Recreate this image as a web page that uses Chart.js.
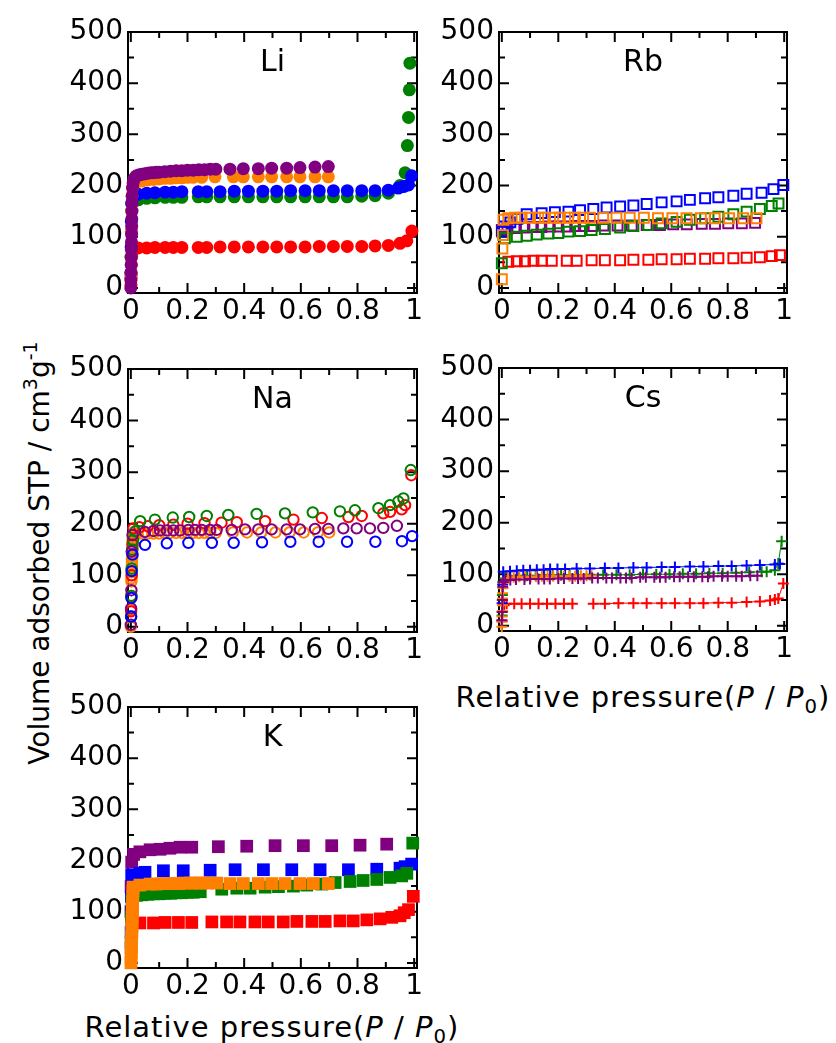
<!DOCTYPE html>
<html>
<head>
<meta charset="utf-8">
<script src="https://cdn.jsdelivr.net/npm/chart.js@4.4.0/dist/chart.umd.min.js"></script>
<style>
body { margin:0; background:#fff; width:836px; height:1043px; position:relative; overflow:hidden; font-family:"DejaVu Sans", sans-serif; color:#000 }
canvas { position:absolute }
.title { position:absolute; white-space:nowrap; line-height:1; transform:translate(-50%,-50%) }
.ytitle { font-size:28px; transform:translate(-50%,-50%) rotate(-90deg) }
.xtitle { font-size:29px; letter-spacing:1px }
.sup { font-size:0.68em; position:relative; top:-0.62em }
.sub { font-size:0.68em; position:relative; top:0.3em }
</style>
</head>
<body>
<div class="title ytitle" style="left:40px; top:553px">Volume adsorbed STP / cm<span class="sup">3</span>g<span class="sup">-1</span></div>
<div class="title xtitle" style="left:643px; top:697px">Relative pressure(<i>P</i> / <i>P</i><span class="sub">0</span>)</div>
<div class="title xtitle" style="left:272px; top:1027px">Relative pressure(<i>P</i> / <i>P</i><span class="sub">0</span>)</div>
<script>
// axes
const xTicks = [0, 0.2, 0.4, 0.6, 0.8, 1]
const xTickLabels = ['0', '0.2', '0.4', '0.6', '0.8', '1']
const xMinor = [0.1, 0.3, 0.5, 0.7, 0.9]
const yTicks = [0, 100, 200, 300, 400, 500]
const yTickLabels = ['0', '100', '200', '300', '400', '500']
const yMinor = [50, 150, 250, 350, 450]

// Li
const liRedX = [0.0005, 0.001, 0.002, 0.003, 0.005, 0.026, 0.056, 0.085, 0.121, 0.15, 0.18, 0.238, 0.268, 0.315, 0.365, 0.415, 0.466, 0.515, 0.564, 0.615, 0.665, 0.715, 0.764, 0.815, 0.862, 0.909, 0.95, 0.974, 0.992]
const liRedY = [5, 25, 45, 62, 74, 78, 78, 79, 79, 79, 79, 79, 79, 80, 80, 80, 80, 80, 80, 80, 81, 81, 81, 81, 82, 83, 87, 92, 111]
const liGreenX = [0.0005, 0.001, 0.002, 0.003, 0.005, 0.026, 0.056, 0.085, 0.121, 0.15, 0.18, 0.238, 0.268, 0.315, 0.365, 0.415, 0.466, 0.515, 0.564, 0.615, 0.665, 0.715, 0.764, 0.815, 0.862, 0.909, 0.95, 0.968, 0.976, 0.98, 0.983, 0.985]
const liGreenY = [20, 60, 110, 150, 168, 172, 175, 176, 177, 177, 177, 178, 178, 178, 178, 178, 178, 178, 178, 178, 178, 178, 178, 179, 180, 185, 200, 225, 278, 333, 387, 439]
const liBlueX = [0.0005, 0.001, 0.002, 0.003, 0.005, 0.026, 0.056, 0.085, 0.121, 0.15, 0.18, 0.238, 0.268, 0.315, 0.365, 0.415, 0.466, 0.515, 0.564, 0.615, 0.665, 0.715, 0.764, 0.815, 0.862, 0.909, 0.944, 0.962, 0.98, 0.991]
const liBlueY = [30, 80, 130, 165, 178, 183, 185, 186, 187, 187, 188, 188, 188, 188, 189, 189, 189, 189, 190, 190, 190, 190, 190, 190, 190, 191, 195, 198, 201, 219]
const liOrangeX = [0.0005, 0.001, 0.002, 0.003, 0.004, 0.006, 0.01, 0.02, 0.04, 0.06, 0.08, 0.1, 0.12, 0.14, 0.16, 0.18, 0.2, 0.22, 0.25, 0.297, 0.362, 0.397, 0.45, 0.497, 0.55, 0.597, 0.65, 0.697]
const liOrangeY = [20, 60, 110, 150, 180, 196, 203, 206, 209, 211, 212, 213, 214, 214, 215, 215, 216, 216, 216, 217, 217, 217, 217, 217, 217, 217, 217, 217]
const liPurpleX = [0, 0.0003, 0.0006, 0.001, 0.0014, 0.0018, 0.0022, 0.0026, 0.003, 0.0035, 0.004, 0.0045, 0.005, 0.006, 0.008, 0.011, 0.015, 0.02, 0.03, 0.04, 0.05, 0.06, 0.07, 0.08, 0.09, 0.1, 0.12, 0.14, 0.16, 0.18, 0.2, 0.22, 0.24, 0.26, 0.28, 0.3, 0.35, 0.397, 0.45, 0.497, 0.55, 0.597, 0.65, 0.697]
const liPurpleY = [0, 15, 30, 45, 60, 75, 90, 105, 120, 135, 150, 165, 180, 195, 205, 212, 216, 219, 221, 222, 223, 224, 225, 225, 226, 226, 227, 228, 229, 229, 230, 230, 231, 231, 232, 232, 232, 233, 233, 234, 234, 235, 236, 237]

// Rb
const rbRedX = [0.023, 0.053, 0.082, 0.112, 0.141, 0.177, 0.23, 0.265, 0.318, 0.365, 0.419, 0.466, 0.519, 0.566, 0.619, 0.666, 0.72, 0.767, 0.82, 0.867, 0.914, 0.956, 0.985]
const rbRedY = [51, 52, 52, 53, 53, 53, 53, 53, 54, 54, 54, 55, 55, 56, 56, 57, 57, 58, 58, 59, 60, 62, 64]
const rbGreenX = [0, 0.011, 0.053, 0.088, 0.124, 0.165, 0.2, 0.236, 0.277, 0.318, 0.365, 0.419, 0.466, 0.519, 0.566, 0.619, 0.666, 0.72, 0.767, 0.82, 0.867, 0.914, 0.956, 0.98]
const rbGreenY = [48, 97, 100, 102, 104, 106, 107, 110, 111, 113, 115, 118, 121, 123, 126, 129, 133, 136, 139, 144, 149, 154, 160, 165]
const rbBlueX = [0.001, 0.008, 0.03, 0.055, 0.088, 0.141, 0.188, 0.236, 0.277, 0.324, 0.371, 0.419, 0.466, 0.513, 0.566, 0.619, 0.666, 0.72, 0.767, 0.82, 0.867, 0.92, 0.962, 0.997]
const rbBlueY = [110, 120, 128, 135, 144, 146, 148, 149, 152, 154, 157, 159, 161, 164, 167, 169, 172, 175, 177, 180, 184, 186, 193, 201]
const rbOrangeX = [0, 0.002, 0.004, 0.006, 0.023, 0.047, 0.07, 0.1, 0.129, 0.153, 0.182, 0.206, 0.235, 0.259, 0.288, 0.312, 0.359, 0.406, 0.453, 0.503, 0.553, 0.604, 0.654, 0.705, 0.754, 0.805, 0.855, 0.902]
const rbOrangeY = [17, 77, 103, 133, 136, 137, 137, 137, 137, 137, 137, 137, 137, 137, 137, 137, 137, 137, 137, 137, 136, 136, 136, 136, 136, 136, 136, 136]
const rbPurpleX = [0, 0.02, 0.05, 0.08, 0.11, 0.14, 0.17, 0.2, 0.23, 0.26, 0.29, 0.32, 0.36, 0.41, 0.46, 0.513, 0.56, 0.607, 0.655, 0.708, 0.755, 0.802, 0.85, 0.897]
const rbPurpleY = [113, 116, 117, 118, 119, 119, 120, 120, 120, 121, 121, 121, 122, 122, 122, 123, 123, 124, 124, 125, 125, 126, 126, 127]

// Na
const naRedX = [0.001, 0.003, 0.006, 0.009, 0.03, 0.06, 0.1, 0.15, 0.2, 0.26, 0.32, 0.374, 0.474, 0.574, 0.674, 0.768, 0.815, 0.891, 0.915, 0.956, 0.968, 0.99]
const naRedY = [30, 100, 160, 191, 193, 195, 197, 198, 200, 201, 202, 203, 205, 208, 211, 213, 215, 220, 223, 228, 236, 294]
const naGreenX = [0.001, 0.002, 0.003, 0.005, 0.008, 0.015, 0.033, 0.085, 0.148, 0.206, 0.268, 0.344, 0.444, 0.544, 0.642, 0.738, 0.791, 0.874, 0.915, 0.944, 0.962, 0.988]
const naGreenY = [20, 60, 113, 150, 168, 185, 205, 208, 212, 213, 215, 217, 219, 220, 222, 224, 226, 230, 236, 243, 249, 304]
const naBlueX = [0.001, 0.002, 0.003, 0.006, 0.05, 0.127, 0.203, 0.286, 0.363, 0.463, 0.563, 0.663, 0.763, 0.863, 0.957, 0.993]
const naBlueY = [20, 56, 108, 140, 159, 162, 163, 163, 163, 164, 165, 165, 165, 165, 166, 176]
const naOrangeX = [0, 0.001, 0.001, 0.002, 0.002, 0.003, 0.003, 0.003, 0.004, 0.004, 0.004, 0.005, 0.005, 0.005, 0.006, 0.006, 0.006, 0.007, 0.007, 0.008, 0.01, 0.014, 0.02, 0.04, 0.06, 0.08, 0.1, 0.12, 0.14, 0.16, 0.18, 0.2, 0.22, 0.24, 0.26, 0.28, 0.3, 0.36, 0.41, 0.46, 0.51, 0.56, 0.61, 0.66, 0.7]
const naOrangeY = [0, 33, 60, 88, 94, 100, 106, 112, 118, 124, 130, 136, 142, 148, 154, 160, 166, 170, 174, 177, 179, 180, 180, 181, 181, 181, 181, 182, 182, 182, 182, 182, 182, 182, 182, 182, 182, 183, 183, 183, 183, 183, 183, 183, 183]
const naPurpleX = [0, 0.001, 0.002, 0.003, 0.006, 0.05, 0.08, 0.103, 0.127, 0.15, 0.174, 0.203, 0.227, 0.25, 0.28, 0.303, 0.356, 0.403, 0.45, 0.497, 0.55, 0.597, 0.65, 0.697, 0.75, 0.797, 0.844, 0.891, 0.939]
const naPurpleY = [4, 36, 71, 146, 178, 184, 186, 187, 187, 187, 187, 188, 188, 188, 188, 188, 188, 189, 189, 189, 189, 189, 190, 190, 191, 191, 191, 192, 196]

// Cs (null breaks the red line where the picture has a gap)
const csRedX = [0.001, 0.003, 0.008, 0.017, 0.044, 0.07, 0.1, 0.13, 0.16, 0.19, 0.22, 0.25, 0.29, 0.324, 0.365, 0.413, 0.466, 0.513, 0.566, 0.613, 0.666, 0.714, 0.767, 0.814, 0.867, 0.914, 0.95, 0.967, 0.979, 0.997]
const csRedY = [10, 28, 40, 43, 43, 43, 43, 43, 43, 43, 43, 43, null, 43, 43, 44, 44, 44, 44, 44, 44, 44, 45, 45, 46, 47, 49, 51, 53, 82]
const csGreenX = [0.001, 0.002, 0.004, 0.01, 0.03, 0.06, 0.09, 0.12, 0.15, 0.18, 0.21, 0.24, 0.27, 0.312, 0.359, 0.406, 0.453, 0.5, 0.547, 0.594, 0.641, 0.688, 0.735, 0.782, 0.829, 0.876, 0.92, 0.938, 0.967, 0.979, 0.991]
const csGreenY = [20, 60, 85, 92, 96, 97, 97, 97, 98, 98, 98, 98, 98, 99, 99, 99, 99, 100, 100, 100, 101, 101, 102, 102, 103, 104, 105, 105, 108, 121, 164]
const csBlueX = [0.001, 0.002, 0.003, 0.005, 0.029, 0.053, 0.076, 0.1, 0.124, 0.148, 0.171, 0.197, 0.224, 0.265, 0.312, 0.365, 0.413, 0.466, 0.513, 0.566, 0.613, 0.666, 0.714, 0.767, 0.814, 0.867, 0.914, 0.967, 0.985]
const csBlueY = [44, 50, 80, 105, 106, 107, 108, 108, 109, 109, 110, 110, 110, 111, 111, 112, 112, 113, 113, 114, 114, 115, 115, 116, 116, 117, 118, 119, 120]
const csOrangeX = [0, 0.0005, 0.001, 0.0015, 0.002, 0.0025, 0.003, 0.004, 0.006, 0.022, 0.042, 0.062, 0.082, 0.102, 0.122, 0.142, 0.162, 0.182, 0.2, 0.22, 0.24, 0.26, 0.28, 0.3, 0.318]
const csOrangeY = [-2, 8, 18, 29, 40, 53, 63, 73, 84, 93, 94, 95, 95, 95, 95, 96, 96, 96, 96, 96, 96, 96, 97, 97, 97]
const csPurpleX = [0, 0.001, 0.002, 0.003, 0.005, 0.012, 0.03, 0.05, 0.08, 0.1, 0.13, 0.15, 0.17, 0.2, 0.22, 0.25, 0.27, 0.29, 0.32, 0.34, 0.37, 0.39, 0.42, 0.44, 0.46, 0.49, 0.51, 0.54, 0.56, 0.58, 0.61, 0.63, 0.66, 0.68, 0.71, 0.73, 0.75, 0.78, 0.8, 0.83, 0.85, 0.88, 0.905]
const csPurpleY = [11, 27, 50, 76, 85, 89, 89, 90, 90, 91, 91, 91, 91, 92, 92, 92, 92, 92, 93, 93, 93, 93, 93, 93, 93, 94, 94, 94, 94, 94, 95, 95, 95, 95, 95, 95, 96, 96, 96, 96, 96, 97, 97]

// K
const kRedX = [0.001, 0.003, 0.032, 0.08, 0.121, 0.168, 0.215, 0.286, 0.338, 0.385, 0.438, 0.485, 0.538, 0.586, 0.639, 0.686, 0.738, 0.785, 0.833, 0.88, 0.921, 0.95, 0.965, 0.98, 0.997]
const kRedY = [30, 65, 78, 78, 79, 79, 79, 80, 80, 80, 80, 80, 80, 81, 81, 81, 82, 82, 84, 86, 89, 92, 98, 104, 130]
const kGreenX = [0.001, 0.002, 0.004, 0.02, 0.04, 0.06, 0.08, 0.1, 0.12, 0.14, 0.16, 0.18, 0.2, 0.22, 0.245, 0.321, 0.374, 0.421, 0.474, 0.521, 0.574, 0.621, 0.674, 0.721, 0.774, 0.82, 0.868, 0.915, 0.956, 0.974, 0.995]
const kGreenY = [40, 90, 120, 132, 133, 134, 135, 135, 136, 136, 137, 137, 138, 138, 139, 144, 146, 146, 148, 149, 150, 152, 154, 157, 159, 161, 163, 167, 170, 175, 234]
const kBlueX = [0.001, 0.002, 0.003, 0.032, 0.05, 0.115, 0.185, 0.28, 0.368, 0.468, 0.568, 0.668, 0.768, 0.868, 0.95, 0.968, 0.991]
const kBlueY = [60, 130, 172, 175, 177, 180, 180, 181, 182, 182, 182, 182, 182, 183, 185, 188, 193]
const kOrangeX = [0.0005, 0.001, 0.0015, 0.002, 0.0025, 0.003, 0.0035, 0.004, 0.0045, 0.005, 0.0055, 0.006, 0.0065, 0.007, 0.0075, 0.008, 0.032, 0.068, 0.09, 0.11, 0.13, 0.15, 0.17, 0.19, 0.21, 0.23, 0.25, 0.27, 0.303, 0.35, 0.397, 0.45, 0.497, 0.544, 0.597, 0.644, 0.697]
const kOrangeY = [0, 10, 20, 30, 40, 50, 60, 70, 80, 90, 100, 110, 120, 130, 140, 148, 152, 154, 154, 155, 155, 155, 155, 156, 156, 156, 156, 156, 156, 155, 155, 155, 155, 155, 155, 155, 155]
const kPurpleX = [0.0005, 0.001, 0.003, 0.01, 0.032, 0.068, 0.103, 0.138, 0.174, 0.215, 0.309, 0.409, 0.509, 0.609, 0.709, 0.809, 0.903]
const kPurpleY = [100, 149, 197, 212, 217, 221, 222, 224, 226, 226, 227, 228, 229, 229, 229, 230, 232]

const RED = '#ff0000', GREEN = '#008000', BLUE = '#0000ff', ORANGE = '#ff8000', PURPLE = '#800080'

const FONT = '"DejaVu Sans"'
const AXIS_W = 75, AXIS_H = 45, PAD_T = 22, PAD_R = 22

const markers = {
    filledCircle: {style: 'circle', r: 6.5, bw: 0, fill: true},
    openSquare: {style: 'rect', r: 7, bw: 2, fill: false},
    openCircle: {style: 'circle', r: 5.2, bw: 2, fill: false},
    cross: {style: 'cross', r: 5.5, bw: 2, fill: false, line: true},
    filledSquare: {style: 'rect', r: 9, bw: 0, fill: true}
}

// frame + inward ticks on all four sides
const frameTicks = {
    id: 'frameTicks',
    beforeDatasetsDraw(chart) {
        const {ctx, chartArea: a} = chart
        const xs = chart.scales.x, ys = chart.scales.y
        ctx.save()
        ctx.strokeStyle = '#000'
        ctx.lineWidth = 2
        ctx.beginPath()
        const seg = (x1, y1, x2, y2) => { ctx.moveTo(x1, y1); ctx.lineTo(x2, y2) }
        const xt = (vals, len) => vals.forEach(v => {
            const p = xs.getPixelForValue(v)
            seg(p, a.bottom, p, a.bottom - len)
            seg(p, a.top, p, a.top + len)
        })
        const yt = (vals, len) => vals.forEach(v => {
            const p = ys.getPixelForValue(v)
            seg(a.left, p, a.left + len, p)
            seg(a.right, p, a.right - len, p)
        })
        xt(xTicks, 10); xt(xMinor, 6)
        yt(yTicks, 10); yt(yMinor, 6)
        ctx.stroke()
        ctx.strokeRect(a.left, a.top, a.right - a.left, a.bottom - a.top)
        ctx.restore()
    }
}

const panelLabel = {
    id: 'panelLabel',
    afterDatasetsDraw(chart, args, opts) {
        const {ctx, chartArea: a} = chart
        ctx.save()
        ctx.font = '30px ' + FONT
        ctx.fillStyle = '#000'
        ctx.textAlign = 'center'
        ctx.textBaseline = 'middle'
        ctx.fillText(opts.text, (a.left + a.right) / 2, a.top + 31)
        ctx.restore()
    }
}

function pts(xs, ys) {
    return xs.map((x, i) => ({x: x, y: ys[i]}))
}

function makePanel(box, label, marker, series) {
    const [L, T, R, B] = box
    const c = document.createElement('canvas')
    const w = R - L + AXIS_W + PAD_R
    const h = B - T + PAD_T + AXIS_H
    c.width = w; c.height = h
    c.style.width = w + 'px'; c.style.height = h + 'px'
    c.style.left = (L - AXIS_W) + 'px'
    c.style.top = (T - PAD_T) + 'px'
    document.body.appendChild(c)
    const m = markers[marker]
    const datasets = series.map(([xs, ys, color]) => ({
        data: pts(xs, ys),
        pointStyle: m.style,
        pointRadius: m.r,
        pointBorderWidth: m.bw,
        pointBackgroundColor: m.fill ? color : 'rgba(0,0,0,0)',
        pointBorderColor: color,
        borderColor: color,
        borderWidth: 1,
        showLine: !!m.line,
        spanGaps: false,
        clip: false
    }))
    const tickFont = {family: FONT, size: 28}
    new Chart(c, {
        type: 'scatter',
        data: {datasets},
        plugins: [frameTicks, panelLabel],
        options: {
            responsive: false,
            animation: false,
            events: [],
            layout: {padding: {left: 0, top: PAD_T, right: PAD_R, bottom: 0}},
            plugins: {legend: {display: false}, tooltip: {enabled: false}, panelLabel: {text: label}},
            scales: {
                x: {
                    type: 'linear', min: -0.01, max: 1.01,
                    grid: {display: false, drawTicks: false}, border: {display: false},
                    afterBuildTicks: s => { s.ticks = xTicks.map(v => ({value: v})) },
                    afterFit: s => { s.height = AXIS_H },
                    ticks: {autoSkip: false, maxRotation: 0, padding: 2, color: '#000', font: tickFont,
                        callback: (v, i) => xTickLabels[i]}
                },
                y: {
                    type: 'linear', min: -10, max: 500,
                    grid: {display: false, drawTicks: false}, border: {display: false},
                    afterBuildTicks: s => { s.ticks = yTicks.map(v => ({value: v})) },
                    afterFit: s => { s.width = AXIS_W },
                    ticks: {autoSkip: false, padding: 5, color: '#000', font: tickFont,
                        callback: (v, i) => yTickLabels[i]}
                }
            }
        }
    })
}

// first series is drawn on top
makePanel([128, 32, 417, 293], 'Li', 'filledCircle', [
    [liPurpleX, liPurpleY, PURPLE], [liOrangeX, liOrangeY, ORANGE], [liBlueX, liBlueY, BLUE],
    [liGreenX, liGreenY, GREEN], [liRedX, liRedY, RED]])
makePanel([499, 32, 787, 293], 'Rb', 'openSquare', [
    [rbOrangeX, rbOrangeY, ORANGE], [rbGreenX, rbGreenY, GREEN], [rbBlueX, rbBlueY, BLUE],
    [rbPurpleX, rbPurpleY, PURPLE], [rbRedX, rbRedY, RED]])
makePanel([128, 369, 417, 632], 'Na', 'openCircle', [
    [naBlueX, naBlueY, BLUE], [naPurpleX, naPurpleY, PURPLE], [naGreenX, naGreenY, GREEN],
    [naRedX, naRedY, RED], [naOrangeX, naOrangeY, ORANGE]])
makePanel([499, 368, 787, 631], 'Cs', 'cross', [
    [csPurpleX, csPurpleY, PURPLE], [csOrangeX, csOrangeY, ORANGE], [csBlueX, csBlueY, BLUE],
    [csGreenX, csGreenY, GREEN], [csRedX, csRedY, RED]])
makePanel([128, 707, 417, 968], 'K', 'filledSquare', [
    [kOrangeX, kOrangeY, ORANGE], [kGreenX, kGreenY, GREEN], [kBlueX, kBlueY, BLUE],
    [kPurpleX, kPurpleY, PURPLE], [kRedX, kRedY, RED]])
</script>
</body>
</html>
